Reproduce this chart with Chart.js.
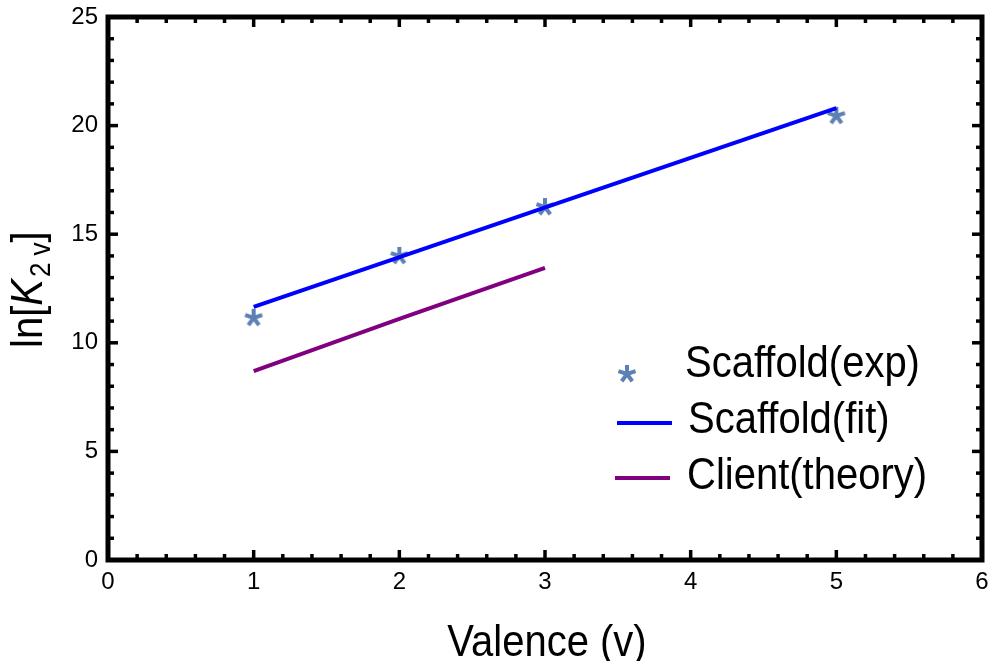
<!DOCTYPE html>
<html>
<head>
<meta charset="utf-8">
<script src="https://cdn.jsdelivr.net/npm/chart.js@4"></script>
<style>
html,body{margin:0;padding:0;background:#fff;}
#wrap{width:993px;height:661px;position:relative;}
</style>
</head>
<body>
<div id="wrap"><canvas id="c"></canvas></div>
<script>
// data
const valence = [1, 2, 3, 5];
const lnKExp = [11.15, 14.0, 16.25, 20.45];
const fitX = [1, 5];
const fitY = [11.65, 20.8];
const clientX = [1, 2, 3];
const clientY = [8.7, 11.1, 13.45];
const xTicks = [0, 1, 2, 3, 4, 5, 6];
const yTicks = [0, 5, 10, 15, 20, 25];
const labels = ['Scaffold(exp)', 'Scaffold(fit)', 'Client(theory)'];

const FONT = "'Liberation Sans', Arial, sans-serif";
const starColor = '#5E81B5';

// 5-armed asterisk like the Mathematica marker
function makeStar(){
  const s = document.createElement('canvas'); s.width = 24; s.height = 24;
  const g = s.getContext('2d');
  g.strokeStyle = starColor; g.lineWidth = 4; g.lineCap = 'butt';
  for(let i=0;i<5;i++){
    const a = -Math.PI/2 + i*2*Math.PI/5;
    g.beginPath(); g.moveTo(12,12); g.lineTo(12+9*Math.cos(a), 12+9*Math.sin(a)); g.stroke();
  }
  return s;
}
const star = makeStar();

const pts = (xs, ys) => xs.map((x,i)=>({x:x, y:ys[i]}));

function stretchText(ctx, txt, x, y, font){
  ctx.save(); ctx.translate(x,y); ctx.scale(1,1.12); ctx.font = font; ctx.fillText(txt,0,0); ctx.restore();
}

const frame = {
  id:'frame',
  afterDraw(chart){
    const ctx = chart.ctx, a = chart.chartArea, sx = chart.scales.x, sy = chart.scales.y;
    ctx.save();
    ctx.strokeStyle = '#000'; ctx.fillStyle = '#000';
    // minor + major ticks pointing inward on all 4 sides
    ctx.lineWidth = 3.5;
    for(let v=0; v<=6.001; v+=0.2){
      const px = sx.getPixelForValue(v);
      const major = Math.abs(v-Math.round(v))<1e-6;
      const len = major?10:6;
      ctx.beginPath(); ctx.moveTo(px,a.bottom); ctx.lineTo(px,a.bottom-len); ctx.stroke();
      ctx.beginPath(); ctx.moveTo(px,a.top); ctx.lineTo(px,a.top+len); ctx.stroke();
    }
    for(let v=0; v<=25; v+=1){
      const py = sy.getPixelForValue(v);
      const len = v%5===0?10:6;
      ctx.beginPath(); ctx.moveTo(a.left,py); ctx.lineTo(a.left+len,py); ctx.stroke();
      ctx.beginPath(); ctx.moveTo(a.right,py); ctx.lineTo(a.right-len,py); ctx.stroke();
    }
    ctx.lineWidth = 5;
    ctx.strokeRect(a.left, a.top, a.right-a.left, a.bottom-a.top);

    // axis titles
    ctx.textBaseline = 'alphabetic';
    ctx.textAlign = 'center';
    stretchText(ctx, 'Valence (v)', 547, 656, '40px '+FONT);

    // ln[K_{2 v}] rotated
    ctx.save();
    ctx.translate(42, 348); ctx.rotate(-Math.PI/2); ctx.scale(1,1.12);
    ctx.textAlign = 'left';
    let x = 0;
    const parts = [['ln[', '40px '+FONT, 0], ['K', 'italic 40px '+FONT, 0], ['2 v', '26px '+FONT, 7], [']', '40px '+FONT, 0]];
    for(const [t,f,dy] of parts){ ctx.font = f; ctx.fillText(t, x, dy); x += ctx.measureText(t).width + (t==='K'?2:0); }
    ctx.restore();

    // legend
    ctx.textAlign = 'left';
    ctx.drawImage(star, 627-12, 374-12);
    ctx.lineWidth = 4;
    ctx.strokeStyle = '#0000FF'; ctx.beginPath(); ctx.moveTo(617,423); ctx.lineTo(672,423); ctx.stroke();
    ctx.strokeStyle = '#800080'; ctx.beginPath(); ctx.moveTo(615,478); ctx.lineTo(670,478); ctx.stroke();
    ctx.fillStyle = '#000';
    stretchText(ctx, labels[0], 685, 377, '40px '+FONT);
    stretchText(ctx, labels[1], 688, 433, '40px '+FONT);
    stretchText(ctx, labels[2], 687, 489, '40px '+FONT);
    ctx.restore();
  }
};

new Chart(document.getElementById('c'), {
  type:'scatter',
  data:{datasets:[
    {label:labels[1], data:pts(fitX,fitY), showLine:true, borderColor:'#0000FF', borderWidth:4, pointRadius:0, order:1},
    {label:labels[2], data:pts(clientX,clientY), showLine:true, borderColor:'#800080', borderWidth:4, pointRadius:0, order:2},
    {label:labels[0], data:pts(valence,lnKExp), pointStyle:star, pointRadius:10, order:3}
  ]},
  options:{
    responsive:true, maintainAspectRatio:false, animation:false,
    layout:{padding:{top:17, right:9, left:0, bottom:0}},
    plugins:{legend:{display:false}, tooltip:{enabled:false}},
    scales:{
      x:{type:'linear', min:0, max:6,
         afterBuildTicks(s){ s.ticks = xTicks.map(v=>({value:v})); },
         afterFit(s){ s.height = 101; s.paddingLeft = 0; s.paddingRight = 0; },
         grid:{display:false, drawTicks:false}, border:{display:false},
         ticks:{color:'#000', padding:8, font:{family:FONT, size:24}}},
      y:{type:'linear', min:0, max:25,
         afterBuildTicks(s){ s.ticks = yTicks.map(v=>({value:v})); },
         afterFit(s){ s.width = 108; s.paddingTop = 0; s.paddingBottom = 0; },
         grid:{display:false, drawTicks:false}, border:{display:false},
         ticks:{color:'#000', padding:10, font:{family:FONT, size:24}}}
    }
  },
  plugins:[frame]
});
</script>
</body>
</html>
